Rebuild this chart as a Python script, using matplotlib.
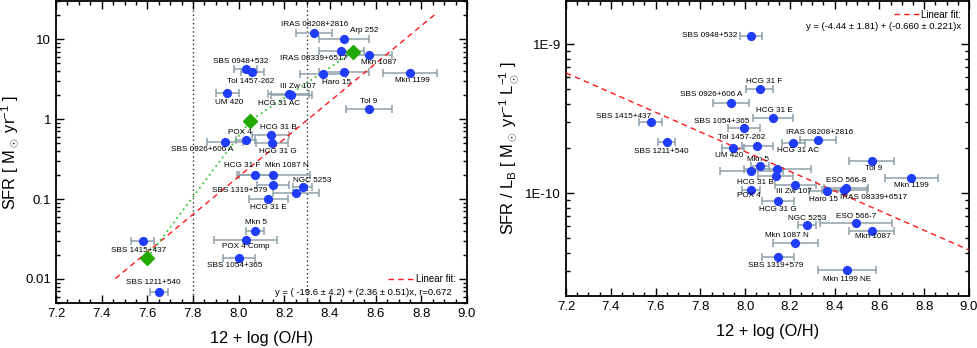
import matplotlib
matplotlib.use('Agg')
import matplotlib.pyplot as plt
from matplotlib.ticker import MultipleLocator, LogLocator, FixedLocator, FixedFormatter, NullFormatter
import numpy as np

plt.rcParams['font.family'] = ['Liberation Sans', 'DejaVu Sans']
plt.rcParams['mathtext.fontset'] = 'custom'
plt.rcParams['mathtext.rm'] = 'Liberation Sans'
plt.rcParams['mathtext.it'] = 'Liberation Sans:italic'

# ---- left panel: SFR vs metallicity ----
sfr_names = ['SBS 0948+532', 'Tol 1457-262', 'UM 420', 'SBS 0926+606 A', 'POX 4',
             'HCG 31 B', 'HCG 31 G', 'HCG 31 F', 'Mkn 1087 N', 'SBS 1319+579',
             'NGC 5253', '', 'HCG 31 E', 'Mkn 5', 'POX 4 Comp', 'SBS 1054+365',
             'SBS 1415+437', 'SBS 1211+540', 'IRAS 08208+2816', 'Arp 252',
             'IRAS 08339+6517', 'Mkn 1087', 'Haro 15', '', 'Mkn 1199', 'Tol 9',
             'III Zw 107', 'HCG 31 AC']
sfr_oh = [8.03, 8.06, 7.95, 7.94, 8.03, 8.14, 8.146, 8.07, 8.152, 8.152,
          8.28, 8.25, 8.13, 8.07, 8.03, 8.00, 7.58, 7.65, 8.33, 8.46,
          8.45, 8.57, 8.37, 8.46, 8.75, 8.57, 8.22, 8.23]
sfr_oh_err = [0.05, 0.05, 0.05, 0.08, 0.04, 0.08, 0.07, 0.07, 0.16, 0.07,
              0.04, 0.10, 0.085, 0.04, 0.14, 0.07, 0.05, 0.04, 0.08, 0.11,
              0.10, 0.10, 0.10, 0.11, 0.12, 0.10, 0.09, 0.09]
sfr = [4.22, 3.84, 2.11, 0.52, 0.54, 0.63, 0.497, 0.201, 0.201, 0.151,
       0.140, 0.12, 0.10, 0.040, 0.031, 0.0182, 0.030, 0.0069, 11.8, 10.1,
       7.08, 6.31, 3.65, 3.83, 3.79, 1.32, 2.03, 2.00]
# label offsets in pixels (dx, dy)
sfr_lab_off = [(-5, 8), (-2, -9), (2, -9), (-23, -8), (-6, 8),
               (8, 8), (6, -8.5), (-13, 9), (14, 9), (-34, -6),
               (9.5, 6.5), (0, 0), (0, -8.3), (1, 8.7), (0, -7), (-4, -7),
               (-4, -9.3), (-5, 9.7), (1, 9.3), (20, 8.7),
               (-28, -7.3), (10, -7.7), (13, -8), (0, 0), (2, -7.3), (0, 8.3),
               (9, 8.3), (-12, -8.3)]

bin_oh = [7.60, 8.05, 8.50]
bin_sfr = [0.0184, 0.95, 6.87]
fit1_a, fit1_b = -19.6, 2.36
fit1_range = [7.46, 8.87]
oh_limits = [7.8, 8.3]

# ---- right panel: SFR/LB vs metallicity ----
slb_names = ['SBS 0948+532', 'SBS 0926+606 A', 'SBS 1415+437', 'SBS 1211+540',
             'UM 420', 'Tol 1457-262', 'HCG 31 F', 'HCG 31 E', 'SBS 1054+365',
             'HCG 31 AC', 'IRAS 08208+2816', 'Tol 9', 'Mkn 5', '', '',
             'HCG 31 B', 'POX 4', 'III Zw 107', 'HCG 31 G', 'Haro 15',
             'NGC 5253', 'Mkn 1087 N', 'SBS 1319+579', 'Mkn 1199', 'ESO 566-8',
             'IRAS 08339+6517', 'ESO 566-7', 'Mkn 1087', 'Mkn 1199 NE']
slb_oh = [8.025, 7.936, 7.578, 7.649, 7.946, 8.054, 8.066, 8.124, 7.995,
          8.216, 8.325, 8.566, 8.068, 8.028, 8.144, 8.136, 8.028, 8.225,
          8.147, 8.365, 8.277, 8.225, 8.147, 8.743, 8.451, 8.443, 8.496,
          8.566, 8.454]
slb_oh_err = [0.05, 0.08, 0.05, 0.04, 0.05, 0.07, 0.06, 0.09, 0.07,
              0.05, 0.08, 0.10, 0.04, 0.14, 0.15, 0.08, 0.04, 0.09,
              0.07, 0.08, 0.04, 0.10, 0.07, 0.12, 0.10, 0.10, 0.16,
              0.10, 0.13]
slb = [1.137e-9, 4.02e-10, 2.99e-10, 2.21e-10, 2.02e-10, 2.08e-10, 4.99e-10,
       3.19e-10, 2.73e-10, 2.17e-10, 2.27e-10, 1.655e-10, 1.52e-10, 1.42e-10,
       1.45e-10, 1.31e-10, 1.06e-10, 1.137e-10, 0.888e-10, 1.036e-10,
       0.613e-10, 0.462e-10, 0.375e-10, 1.27e-10, 1.09e-10, 1.05e-10,
       0.629e-10, 0.561e-10, 0.306e-10]
slb_lab_off = [(-41, 0), (-20, 8.3), (-27, 5.6), (-5, -9), (-3.6, -8),
               (-15.7, 8), (4, 8), (1.7, 7.3), (-22.6, 7.3), (4.5, -7.7),
               (2, 7.6), (2, -7.6), (-2, 7), (0, 0), (0, 0), (-20, -7),
               (-3, -6.4), (-1.5, -6.7), (0, -8), (-3.5, -8.3), (0, 6.7),
               (-9, 7.6), (-2, -9), (0, -8), (0, 7), (29.5, -7.7), (0, 7.3),
               (1.5, -5.3), (0, -9)]
fit2_a, fit2_b = -4.44, -0.660
fit2_range = [7.2, 9.0]

PT_COLOR = '#1f3dfa'
ERR_COLOR = '#8fa0ab'
LAB_SIZE = 5.9


def style_axes(ax):
    ax.set_xlim(7.2, 9.0)
    ax.xaxis.set_major_locator(MultipleLocator(0.2))
    ax.xaxis.set_minor_locator(MultipleLocator(0.05))
    ax.tick_params(which='both', direction='in', top=True, right=True, labelsize=9.5)
    ax.tick_params(which='major', length=6, width=1)
    ax.tick_params(which='minor', length=3, width=1)
    for s in ax.spines.values():
        s.set_linewidth(1.3)
    ax.set_xlabel('12 + log (O/H)', fontsize=11.8, labelpad=8)


def draw_points(ax, x, xe, y, names, offs):
    ax.errorbar(x, y, xerr=xe, fmt='none', ecolor=ERR_COLOR, elinewidth=1.1,
                capsize=3, capthick=1.1, zorder=2)
    ax.plot(x, y, 'o', color=PT_COLOR, ms=5.6, mec=PT_COLOR, zorder=4)
    for xi, yi, n, (dx, dy) in zip(x, y, names, offs):
        if n:
            ax.annotate(n, (xi, yi), xytext=(dx, dy), textcoords='offset pixels',
                        ha='center', va='center', fontsize=LAB_SIZE, zorder=5)


fig = plt.figure(figsize=(9.77, 3.48), dpi=100)
ax1 = fig.add_axes([56 / 977, 1 - 303 / 348, 411 / 977, 302 / 348])
ax2 = fig.add_axes([566 / 977, 1 - 296 / 348, 403 / 977, 295 / 348])

# left
style_axes(ax1)
ax1.set_yscale('log')
ax1.set_ylim(0.005, 30)
ax1.yaxis.set_major_locator(FixedLocator([0.01, 0.1, 1, 10]))
ax1.yaxis.set_major_formatter(FixedFormatter(['0.01', '0.1', '1', '10']))
ax1.yaxis.set_minor_locator(LogLocator(base=10, subs=np.arange(2, 10)))
ax1.yaxis.set_minor_formatter(NullFormatter())
for v in oh_limits:
    ax1.axvline(v, color='#333333', ls=(0, (1, 2)), lw=1, zorder=1)
xf = np.array(fit1_range)
ax1.plot(xf, 10 ** (fit1_a + fit1_b * xf), color='#ff1a1a', ls=(0, (4, 3)), lw=1,
         zorder=3, label='Linear fit:')
ax1.plot(bin_oh, bin_sfr, color='#33cc33', ls=(0, (1, 2)), lw=1.3, zorder=3)
ax1.plot(bin_oh, bin_sfr, 'D', color='#22aa00', ms=7, zorder=6)
draw_points(ax1, sfr_oh, sfr_oh_err, sfr, sfr_names, sfr_lab_off)
ax1.set_ylabel(r'SFR [ M$_\odot$ yr$^{-1}$ ]', fontsize=11.8, labelpad=3)
ax1.legend(loc='center right', bbox_to_anchor=(0.972, 0.078), frameon=False,
           fontsize=7, handlelength=2.6, handletextpad=0.2, borderpad=0,
           borderaxespad=0)
ax1.text(0.962, 0.034, 'y = ( -19.6 ± 4.2) + (2.36 ± 0.51)x, r=0.672',
         transform=ax1.transAxes, ha='right', va='center', fontsize=6.8)

# right
style_axes(ax2)
ax2.set_yscale('log')
ax2.set_ylim(2.05e-11, 1.95e-9)
ax2.yaxis.set_major_locator(FixedLocator([1e-10, 1e-9]))
ax2.yaxis.set_major_formatter(FixedFormatter(['1E-10', '1E-9']))
ax2.yaxis.set_minor_locator(LogLocator(base=10, subs=np.arange(2, 10)))
ax2.yaxis.set_minor_formatter(NullFormatter())
xf2 = np.array(fit2_range)
ax2.plot(xf2, 10 ** (fit2_a + fit2_b * xf2), color='#ff1a1a', ls=(0, (4, 3)), lw=1,
         zorder=3, label='Linear fit:')
draw_points(ax2, slb_oh, slb_oh_err, slb, slb_names, slb_lab_off)
ax2.set_ylabel(r'SFR / L$_\mathrm{B}$ [ M$_\odot$ yr$^{-1}$ L$_\odot^{-1}$ ]',
               fontsize=11.8, labelpad=3)
ax2.legend(loc='center right', bbox_to_anchor=(0.98, 0.953), frameon=False,
           fontsize=7, handlelength=2.6, handletextpad=0.2, borderpad=0,
           borderaxespad=0)
ax2.text(0.98, 0.915, 'y = (-4.44 ± 1.81) + (-0.660 ± 0.221)x',
         transform=ax2.transAxes, ha='right', va='center', fontsize=6.8)

fig.savefig('out.png', dpi=100)
